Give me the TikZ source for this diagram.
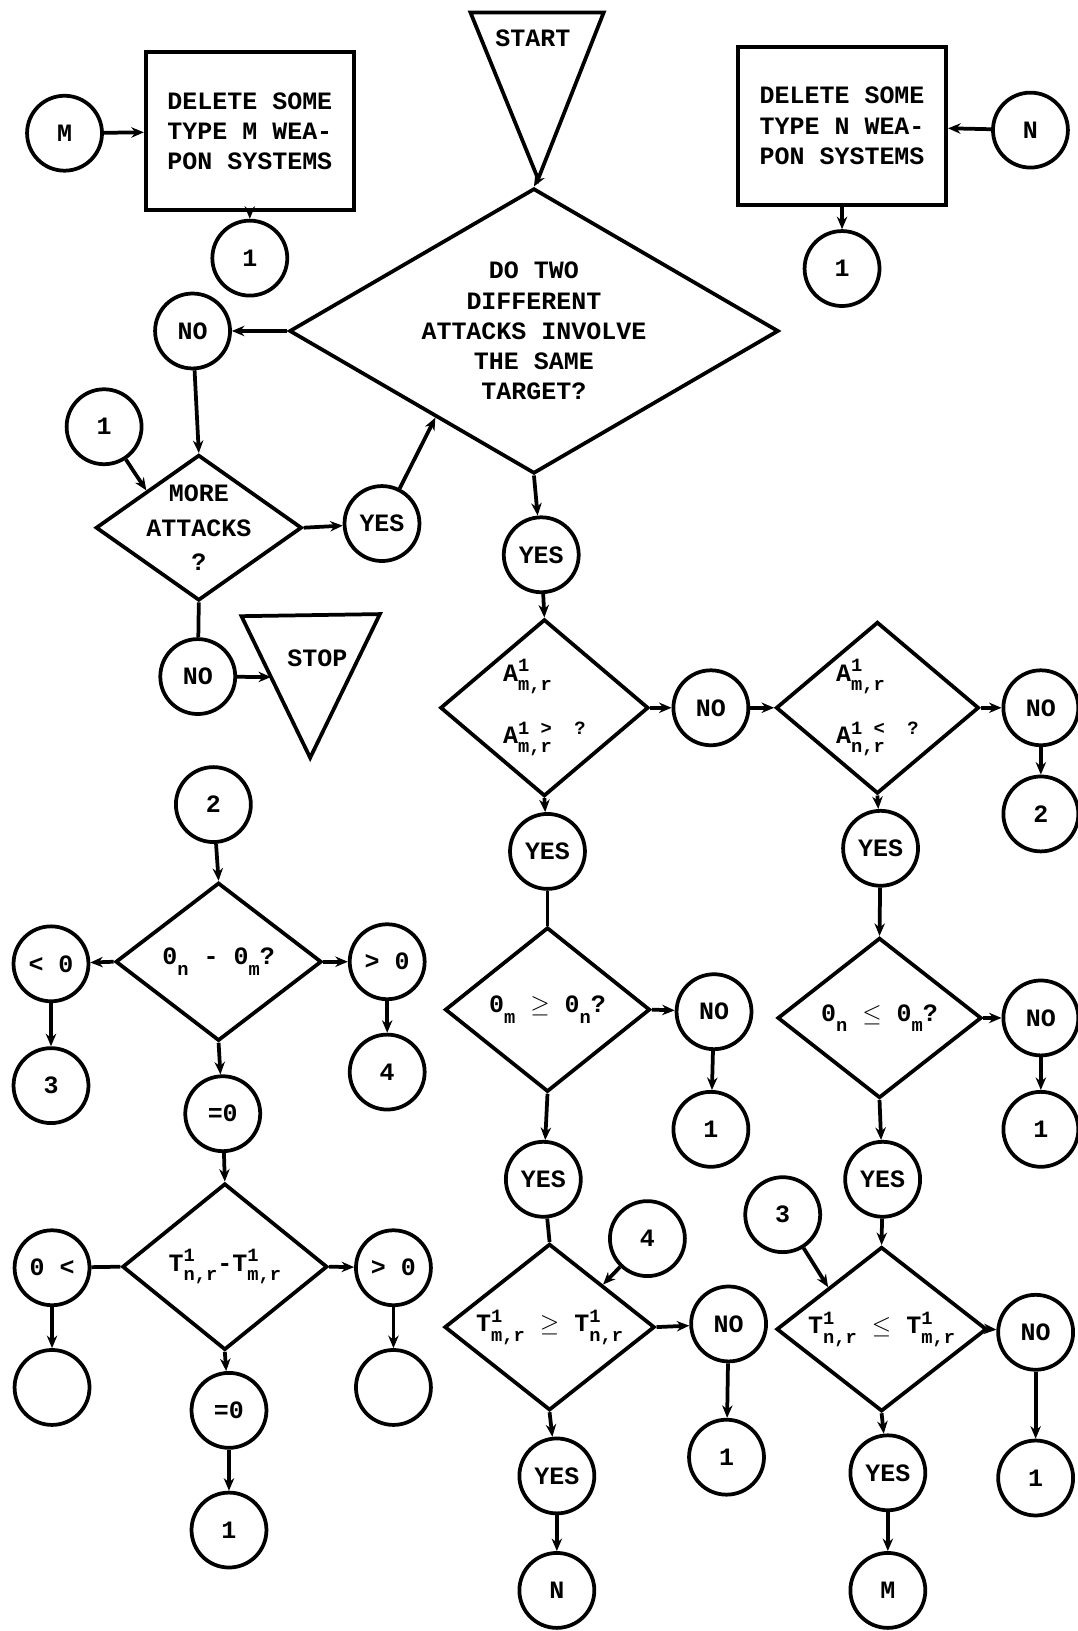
\documentclass[tikz,border=0pt]{standalone}
\usepackage{fontspec}
\setmonofont{Liberation Mono}
\usepackage{tikz}
\usetikzlibrary{shapes.geometric, calc, arrows.meta}

% letter with a stacked super- and subscript, typewriter fashion
\newcommand{\supsub}[3]{#1{\small\begin{tabular}{@{}l@{}}#2\\[-2pt]#3\end{tabular}}}
% letter with a lowered index
\newcommand{\lowidx}[2]{#1\raisebox{-0.8ex}{\small #2}}

\begin{document}
\begin{tikzpicture}[x=0.5pt, y=-0.5pt, >={Stealth[length=6pt,width=5pt]}, line width=1.8pt,
  every node/.style={font=\ttfamily\bfseries\fontsize{12}{14.5}\selectfont},
  conn/.style={draw, circle, minimum size=36pt, inner sep=0pt},
  process/.style={draw, rectangle, minimum width=100pt, minimum height=76pt, align=center},
  decision/.style 2 args={draw, diamond, inner sep=0pt, minimum width=#1, minimum height=#2}]

\useasboundingbox (0,0) rectangle (1035,1567);

% start and stop
\draw (452,12) -- (580,12) -- (517,172) coordinate (start-tip) -- cycle;
\node (start) at (512,37) {START};
\draw (232,592) coordinate (stop-l) -- (365,590) -- (298,728) coordinate (stop-tip) -- cycle;
\node (stop) at (305,632) {STOP};
\coordinate (stop-in) at ($(stop-l)!0.43!(stop-tip)$);

% deletions
\node [process] (box-m) at (240,126) {DELETE SOME\\TYPE M WEA-\\PON SYSTEMS};
\node [process] (box-n) at (809,121) {DELETE SOME\\TYPE N WEA-\\PON SYSTEMS};

% decisions
\node [decision={235pt}{137pt}, label={[align=center]center:{DO TWO\\DIFFERENT\\ATTACKS INVOLVE\\THE SAME\\TARGET?}}] (dec-main) at (513,318) {};
\node [decision={99pt}{70pt}, label={[align=center]center:{MORE\\[2pt]ATTACKS\\[2pt]?}}] (dec-more) at (191,507) {};
\node [decision={100pt}{85pt}, label={[align=left]center:{\supsub{A}{1}{m,r}\\[9pt]\supsub{A}{1 >\ \ ?}{m,r}}}] (dec-a1) at (523,680) {};
\node [decision={97.5pt}{82.5pt}, label={[align=left]center:{\supsub{A}{1}{m,r}\\[9pt]\supsub{A}{1 <\ \ ?}{n,r}}}] (dec-a2) at (843,680) {};
\node [decision={98.5pt}{79pt}, label={center:{\lowidx{0}{m} $\geq$ \lowidx{0}{n}?}}] (dec-o1) at (526,970) {};
\node [decision={98pt}{77pt}, label={center:{\lowidx{0}{n} $\leq$ \lowidx{0}{m}?}}] (dec-o2) at (845,978) {};
\node [decision={101pt}{80pt}, label={center:{\supsub{T}{1}{m,r} $\geq$ \supsub{T}{1}{n,r}}}] (dec-t1) at (528,1275) {};
\node [decision={101pt}{79pt}, label={center:{\supsub{T}{1}{n,r} $\leq$ \supsub{T}{1}{m,r}}}] (dec-t2) at (847,1277) {};
\node [decision={99pt}{76pt}, label={center:{\lowidx{0}{n} - \lowidx{0}{m}?}}] (dec-d1) at (210,924) {};
\node [decision={98.5pt}{80pt}, label={center:{\supsub{T}{1}{n,r}-\supsub{T}{1}{m,r}}}] (dec-d2) at (216,1217) {};

\coordinate (main-in) at ($(dec-main.west)!0.6!(dec-main.south)$);

% connectors (circles)
\foreach \nm/\x/\y/\txt in {
  m-in/62/128/M, one-m/240/248/1, n-in/990/125/N, one-n/809/258/1,
  no-a/185/318/NO, one-a/100/410/1, yes-a/367/503/YES, no-b/190/650/NO,
  yes-main/520/533/YES, no-c/683/680/NO, no-d/1000/680/NO, two-a/1000/782/2,
  yes-b/526/818/YES, yes-c/846/815/YES,
  no-e/686/972/NO, one-b/683/1085/1, yes-d/522/1133/YES,
  no-f/1000/978/NO, one-c/1000/1085/1, yes-e/848/1133/YES,
  four-a/622/1190/4, no-g/700/1272/NO, one-d/698/1400/1, yes-f/535/1418/YES, n-out/535/1528/N,
  three-a/752/1167/3, no-h/995/1280/NO, one-e/995/1420/1, yes-g/853/1415/YES, m-out/853/1528/M,
  two-b/205/773/2, lt-a/49/926/< 0, three-b/49/1043/3, gt-a/372/924/> 0, four-b/372/1030/4, eq-a/214/1070/=0,
  lt-b/50/1218/0 <, blank-a/50/1333/{}, gt-b/378/1218/> 0, blank-b/378/1333/{}, eq-b/220/1355/=0, one-f/220/1470/1}
  \node [conn] (\nm) at (\x,\y) {\txt};

% flow
\foreach \a/\b in {m-in/box-m, n-in/box-n, box-m/one-m, box-n/one-n,
  start-tip/dec-main.north, dec-main.west/no-a, no-a/dec-more.north, one-a/dec-more.north west,
  dec-more.east/yes-a, yes-a/main-in, no-b/stop-in,
  dec-main.south/yes-main, yes-main/dec-a1.north, dec-a1.east/no-c, no-c/dec-a2.west,
  dec-a2.east/no-d, no-d/two-a, dec-a1.south/yes-b, dec-a2.south/yes-c, yes-c/dec-o2.north,
  dec-o1.east/no-e, no-e/one-b, dec-o1.south/yes-d,
  dec-o2.east/no-f, no-f/one-c, dec-o2.south/yes-e, yes-e/dec-t2.north,
  four-a/dec-t1.north east, dec-t1.east/no-g, no-g/one-d, dec-t1.south/yes-f, yes-f/n-out,
  three-a/dec-t2.north west, dec-t2.east/no-h, no-h/one-e, dec-t2.south/yes-g, yes-g/m-out,
  two-b/dec-d1.north, dec-d1.west/lt-a, lt-a/three-b, dec-d1.east/gt-a, gt-a/four-b,
  dec-d1.south/eq-a, eq-a/dec-d2.north,
  lt-b/blank-a, dec-d2.east/gt-b, gt-b/blank-b, dec-d2.south/eq-b, eq-b/one-f}
  \draw [->] (\a) -- (\b);

% plain joins
\foreach \a/\b in {dec-more.south/no-b, yes-b/dec-o1.north, yes-d/dec-t1.north, lt-b/dec-d2.west}
  \draw (\a) -- (\b);

\end{tikzpicture}
\end{document}
